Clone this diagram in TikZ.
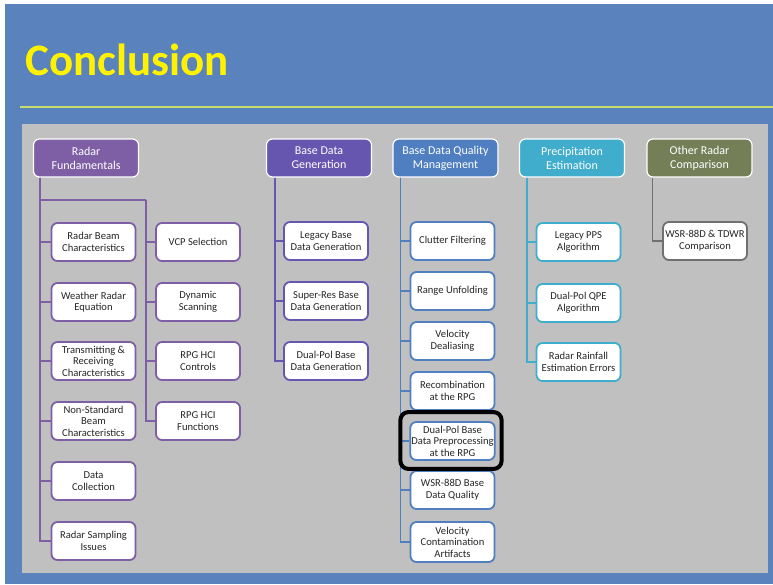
\documentclass[tikz,border=0pt]{standalone}
\usepackage{fontspec}
\setmainfont{Carlito}
\usetikzlibrary{positioning}
\definecolor{slide}{HTML}{5A82BC}
\definecolor{panel}{HTML}{C0C0C0}
\definecolor{titlerule}{HTML}{C8DC6E}
\definecolor{fund}{HTML}{7E5FA6}
\definecolor{gen}{HTML}{6656B0}
\definecolor{qual}{HTML}{4F7FC0}
\definecolor{precip}{HTML}{3FADCB}
\definecolor{other}{HTML}{747F57}
\definecolor{otherline}{HTML}{707070}
\begin{document}
\begin{tikzpicture}[x=1pt,y=-1pt,
  head/.style={rounded corners=6pt,draw=white,line width=1.2pt,minimum width=105pt,minimum height=38pt,
               text=white,font=\fontsize{12}{14}\selectfont,align=center,inner sep=1pt},
  item/.style={rounded corners=6pt,fill=white,line width=1.8pt,minimum width=84pt,minimum height=38pt,
               text=black!85,font=\fontsize{10.6}{11.6}\selectfont,align=center,inner sep=1pt},
  link/.style={line width=1.8pt}]
% slide background
\fill[white] (0,0) rectangle (773,584);
\fill[slide] (5,4) rectangle (773,584);
\useasboundingbox (0,0) rectangle (773,584);
\node[anchor=base west,text=yellow,font=\fontsize{45}{45}\selectfont\bfseries,inner sep=0pt] (title) at (25,75) {Conclusion};
\draw[titlerule,line width=1.6pt] (20,107) -- (773,107);
\fill[panel] (22,124) rectangle (768,573);

% column heads
\node[head,fill=fund] (rf) at (86,158) {Radar\\Fundamentals};
\node[head,fill=gen] (bg) at (319,158) {Base Data\\Generation};
\node[head,fill=qual] (bq) at (445.5,158) {Base Data Quality\\Management};
\node[head,fill=precip] (pe) at (572,158) {Precipitation\\Estimation};
\node[head,fill=other] (oc) at (699.5,158) {Other Radar\\Comparison};

% radar fundamentals
\node[item,draw=fund] (r1) at (93.5,242) {Radar Beam\\Characteristics};
\node[item,draw=fund] (r2) at (93.5,302) {Weather Radar\\Equation};
\node[item,draw=fund] (r3) at (93.5,361) {Transmitting \&\\Receiving\\Characteristics};
\node[item,draw=fund] (r4) at (93.5,421) {Non-Standard\\Beam\\Characteristics};
\node[item,draw=fund] (r5) at (93.5,481) {Data\\Collection};
\node[item,draw=fund] (r6) at (93.5,541) {Radar Sampling\\Issues};
\node[item,draw=fund] (v1) at (198,242) {VCP Selection};
\node[item,draw=fund] (v2) at (198,302) {Dynamic\\Scanning};
\node[item,draw=fund] (v3) at (198,361) {RPG HCI\\Controls};
\node[item,draw=fund] (v4) at (198,421) {RPG HCI\\Functions};
\coordinate (fork) at (146,200);
\foreach \n in {r1,r2,r3,r4,r5,r6}
  \draw[link,fund] ([xshift=7pt]rf.south west) |- (\n.west);
\draw[link,fund] ([xshift=7pt]rf.south west) |- (fork);
\foreach \n in {v1,v2,v3,v4}
  \draw[link,fund] (fork) |- (\n.west);

% base data generation
\node[item,draw=gen] (g1) at (326,241) {Legacy Base\\Data Generation};
\node[item,draw=gen] (g2) at (326,301) {Super-Res Base\\Data Generation};
\node[item,draw=gen] (g3) at (326,361) {Dual-Pol Base\\Data Generation};
\foreach \n in {g1,g2,g3}
  \draw[link,gen] ([xshift=9pt]bg.south west) |- (\n.west);

% base data quality management
\node[item,draw=qual] (q1) at (452.5,241) {Clutter Filtering};
\node[item,draw=qual] (q2) at (452.5,291) {Range Unfolding};
\node[item,draw=qual] (q3) at (452.5,341) {Velocity\\Dealiasing};
\node[item,draw=qual] (q4) at (452.5,391) {Recombination\\at the RPG};
\node[item,draw=qual] (q5) at (452.5,441) {Dual-Pol Base\\Data Preprocessing\\at the RPG};
\node[item,draw=qual] (q6) at (452.5,490) {WSR-88D Base\\Data Quality};
\node[item,draw=qual,minimum height=40pt] (q7) at (452.5,542) {Velocity\\Contamination\\Artifacts};
\foreach \n in {q1,q2,q3,q4,q5,q6,q7}
  \draw[link,qual] ([xshift=8pt]bq.south west) |- (\n.west);
\draw[line width=4pt,rounded corners=8pt] ([xshift=-9pt,yshift=9pt]q5.north west) rectangle ([xshift=6pt,yshift=-8pt]q5.south east);

% precipitation estimation
\node[item,draw=precip] (p1) at (578.5,242) {Legacy PPS\\Algorithm};
\node[item,draw=precip] (p2) at (578.5,303) {Dual-Pol QPE\\Algorithm};
\node[item,draw=precip] (p3) at (578.5,362) {Radar Rainfall\\Estimation Errors};
\foreach \n in {p1,p2,p3}
  \draw[link,precip] ([xshift=8pt]pe.south west) |- (\n.west);

% other radar comparison
\node[item,draw=otherline] (o1) at (705,241) {WSR-88D \& TDWR\\Comparison};
\draw[link,otherline] ([xshift=6pt]oc.south west) |- (o1.west);
\end{tikzpicture}
\end{document}
